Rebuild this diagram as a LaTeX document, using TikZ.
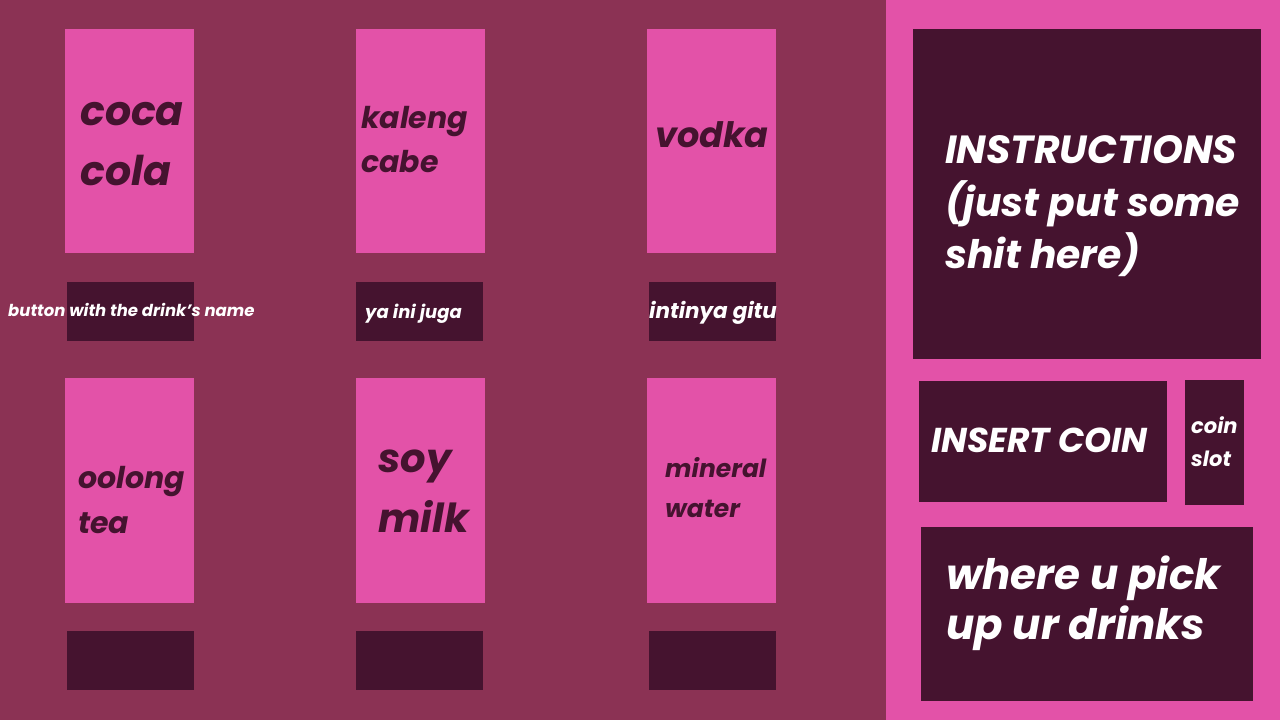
\documentclass[tikz,border=0pt]{standalone}
\usepackage{fontspec}
\setmainfont{Poppins}
\definecolor{plumbg}{HTML}{8B3254}
\definecolor{pinkc}{HTML}{E352A8}
\definecolor{darkc}{HTML}{45132F}
\newcommand{\fs}[1]{\fontsize{#1}{#1}\selectfont\bfseries\itshape}
\begin{document}
\begin{tikzpicture}[x=1pt,y=-1pt,
  canbox/.style={fill=pinkc},
  btnbox/.style={fill=darkc},
  dtxt/.style={anchor=base west, inner sep=0pt, text=darkc},
  wtxt/.style={anchor=base west, inner sep=0pt, text=white}]
\useasboundingbox (0,0) rectangle (1280,720);
% panels
\fill[plumbg] (0,0) rectangle (886,720);
\fill[pinkc] (886,0) rectangle (1280,720);
% cans row 1
\fill[canbox] (65,29) rectangle (194,253);
\fill[canbox] (356,29) rectangle (485,253);
\fill[canbox] (647,29) rectangle (776,253);
% buttons row 1
\fill[btnbox] (67,282) rectangle (194,341);
\fill[btnbox] (356,282) rectangle (483,341);
\fill[btnbox] (649,282) rectangle (776,341);
% cans row 2
\fill[canbox] (65,378) rectangle (194,603);
\fill[canbox] (356,378) rectangle (485,603);
\fill[canbox] (647,378) rectangle (776,603);
% buttons row 2
\fill[btnbox] (67,631) rectangle (194,690);
\fill[btnbox] (356,631) rectangle (483,690);
\fill[btnbox] (649,631) rectangle (776,690);
% right panel boxes
\fill[btnbox] (913,29) rectangle (1261,359);
\fill[btnbox] (919,381) rectangle (1167,502);
\fill[btnbox] (1185,380) rectangle (1244,505);
\fill[btnbox] (921,527) rectangle (1253,701);
% drink labels
\node[dtxt, font=\fs{41}] (coca) at (80,125) {coca};
\node[dtxt, font=\fs{41}] (cola) at (80,185) {cola};
\node[dtxt, font=\fs{30}] (kaleng) at (361,128) {kaleng};
\node[dtxt, font=\fs{30}] (cabe) at (361,172) {cabe};
\node[dtxt, font=\fs{35}] (vodka) at (655,147) {vodka};
\node[dtxt, font=\fs{30}] (oolong) at (78,488) {oolong};
\node[dtxt, font=\fs{30}] (tea) at (78,533) {tea};
\node[dtxt, font=\fs{40}] (soy) at (378,472) {soy};
\node[dtxt, font=\fs{40}] (milk) at (378,532) {milk};
\node[dtxt, font=\fs{25}] (mineral) at (665,477) {mineral};
\node[dtxt, font=\fs{25}] (water) at (665,517) {water};
% button labels
\node[wtxt, font=\fs{16.5}] (btnlbl) at (8,316) {button with the drink’s name};
\node[wtxt, font=\fs{18}] (yaini) at (365,318) {ya ini juga};
\node[wtxt, font=\fs{21.5}] (intinya) at (649,318) {intinya gitu};
% right panel texts
\node[wtxt, font=\fs{39.3}] (instr1) at (945,163) {INSTRUCTIONS};
\node[wtxt, font=\fs{39.3}] (instr2) at (945,216) {(just put some};
\node[wtxt, font=\fs{39.3}] (instr3) at (945,268) {shit here)};
\node[wtxt, font=\fs{34.5}] (insert) at (931,452) {INSERT COIN};
\node[wtxt, font=\fs{21}] (coin) at (1191,433) {coin};
\node[wtxt, font=\fs{21}] (slot) at (1191,466) {slot};
\node[wtxt, font=\fs{42}] (where) at (946,589) {where u pick};
\node[wtxt, font=\fs{42}] (upur) at (946,639) {up ur drinks};
\end{tikzpicture}
\end{document}
